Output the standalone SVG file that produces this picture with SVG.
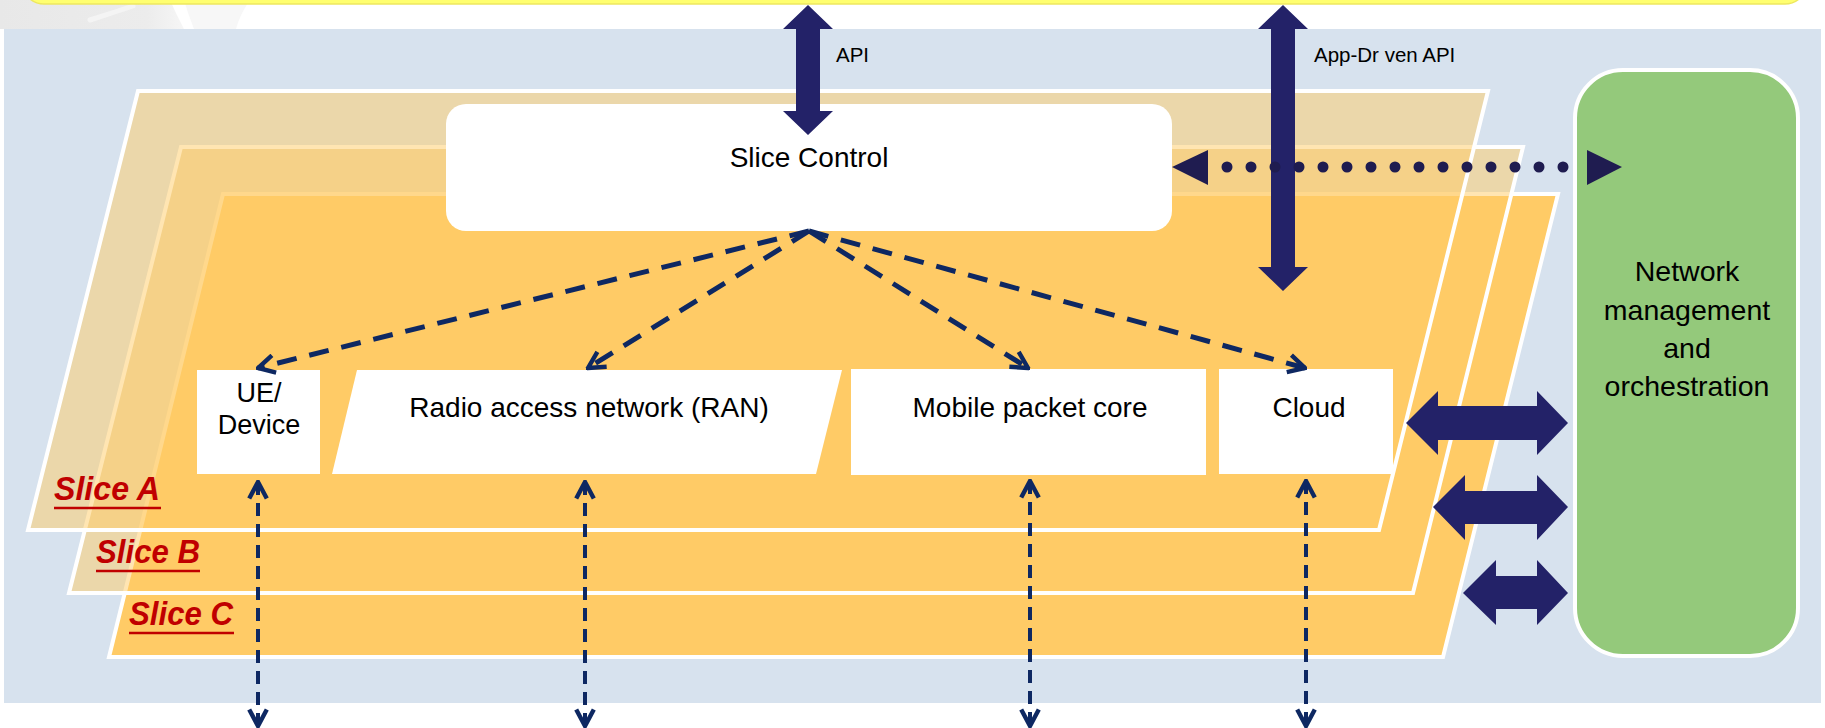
<svg xmlns="http://www.w3.org/2000/svg" width="1825" height="728" viewBox="0 0 1825 728">
<defs>
<style>
.t{font-family:"Liberation Sans",Arial,sans-serif;fill:#000;text-anchor:middle}
.slice{fill:#FFCB66;stroke:#fff;stroke-width:4;stroke-linejoin:miter}
.semi{fill-opacity:0.5}
.node{fill:#fff}
.lbl{font-family:"Liberation Sans",Arial,sans-serif;font-weight:bold;font-style:italic;fill:#C00000;font-size:33px}
.ul{stroke:#C00000;stroke-width:2.5}
.blk{fill:#232268}
.dsh{fill:none;stroke:#0E2862;stroke-width:5;stroke-dasharray:20 13}
.vd{fill:none;stroke:#0E2862;stroke-width:4;stroke-dasharray:13 8}
</style>
<linearGradient id="wm" x1="0" y1="0" x2="1" y2="0">
<stop offset="0" stop-color="#E8E8E8"/>
<stop offset="0.8" stop-color="#ECECEC"/>
<stop offset="1" stop-color="#F6F6F6"/>
</linearGradient>
<marker id="chev" viewBox="0 0 20 20" refX="18" refY="10" markerWidth="22" markerHeight="22" markerUnits="userSpaceOnUse" orient="auto-start-reverse">
<path d="M3,2 L18,10 L3,18" fill="none" stroke="#0E2862" stroke-width="4" stroke-dasharray="none"/>
</marker>
</defs>
<rect x="0" y="0" width="1825" height="728" fill="#fff"/>
<path d="M0,0 L170,0 Q176,14 184,29 L0,29 Z" fill="url(#wm)"/>
<path d="M184,0 L250,0 Q240,14 236,29 L194,29 Q188,14 184,0 Z" fill="#F7F7F7"/>
<path d="M90,20 Q112,13 133,6" fill="none" stroke="#F4F4F4" stroke-width="5" stroke-linecap="round"/>
<rect x="22" y="-40" width="1785" height="44" rx="22" fill="#FFFF70" stroke="#EEE860" stroke-width="1.5"/>
<rect x="4" y="29" width="1817" height="674" fill="#D7E2EE"/>

<g id="slices">
<polygon id="sliceC" class="slice" points="223,194 1558,194 1443,657 109,657"/>
<polygon id="sliceB" class="slice semi" points="181,147 1523,147 1413,593 69,593"/>
<polygon id="sliceA" class="slice semi" points="138,91 1488,91 1379,530 28,530"/>
<text class="lbl" x="54" y="500" textLength="106" lengthAdjust="spacingAndGlyphs">Slice A</text>
<line class="ul" x1="54" y1="508" x2="161" y2="508"/>
<text class="lbl" x="96" y="563" textLength="104" lengthAdjust="spacingAndGlyphs">Slice B</text>
<line class="ul" x1="96" y1="571" x2="200" y2="571"/>
<text class="lbl" x="129" y="625" textLength="104" lengthAdjust="spacingAndGlyphs">Slice C</text>
<line class="ul" x1="129" y1="633" x2="234" y2="633"/>
</g>

<g id="slice-control">
<rect class="node" x="446" y="104" width="726" height="127" rx="20"/>
<text class="t" x="809" y="167" font-size="28">Slice Control</text>
</g>
<g id="ue-device">
<rect class="node" x="197" y="370" width="123" height="104"/>
<text class="t" x="259" y="402" font-size="27">UE/</text>
<text class="t" x="259" y="434" font-size="27">Device</text>
</g>
<g id="ran">
<polygon class="node" points="357,370 842,370 816,474 332,474"/>
<text class="t" x="589" y="417" font-size="28">Radio access network (RAN)</text>
</g>
<g id="core">
<rect class="node" x="851" y="369" width="355" height="106"/>
<text class="t" x="1030" y="417" font-size="28">Mobile packet core</text>
</g>
<g id="cloud">
<rect class="node" x="1219" y="369" width="174" height="105"/>
<text class="t" x="1309" y="417" font-size="28">Cloud</text>
</g>
<g id="nmo">
<rect x="1575" y="70" width="223" height="586" rx="48" fill="#94C97B" stroke="#fff" stroke-width="4"/>
<text class="t" x="1687" y="281" font-size="28.5">Network</text>
<text class="t" x="1687" y="320" font-size="28.5">management</text>
<text class="t" x="1687" y="358" font-size="28.5">and</text>
<text class="t" x="1687" y="396" font-size="28.5">orchestration</text>
</g>

<g id="connectors">
<path class="blk" d="M808,5 L833,29 L820,29 L820,111 L833,111 L808,135 L783,111 L796,111 L796,29 L783,29 Z"/>
<text x="836" y="62" font-family="Liberation Sans,Arial,sans-serif" font-size="20.5" fill="#000">API</text>
<path class="blk" d="M1283,5 L1308,29 L1295,29 L1295,267 L1308,267 L1283,291 L1258,267 L1271,267 L1271,29 L1258,29 Z"/>
<text x="1314" y="62" font-family="Liberation Sans,Arial,sans-serif" font-size="20.5" fill="#000">App-Dr ven API</text>

<line x1="1227" y1="167" x2="1587" y2="167" stroke="#1F1C50" stroke-width="11" stroke-linecap="round" stroke-dasharray="0 24"/>
<polygon points="1172,167 1208,150 1208,185" fill="#1F1C50"/>
<polygon points="1622,167 1587,150 1587,185" fill="#1F1C50"/>

<line class="dsh" x1="809" y1="231" x2="258" y2="368" marker-end="url(#chev)"/>
<line class="dsh" x1="809" y1="231" x2="588" y2="368" marker-end="url(#chev)"/>
<line class="dsh" x1="809" y1="231" x2="1028" y2="368" marker-end="url(#chev)"/>
<line class="dsh" x1="809" y1="231" x2="1305" y2="368" marker-end="url(#chev)"/>

<line class="vd" x1="258" y1="482" x2="258" y2="726" marker-start="url(#chev)" marker-end="url(#chev)"/>
<line class="vd" x1="585" y1="482" x2="585" y2="726" marker-start="url(#chev)" marker-end="url(#chev)"/>
<line class="vd" x1="1030" y1="481" x2="1030" y2="726" marker-start="url(#chev)" marker-end="url(#chev)"/>
<line class="vd" x1="1306" y1="481" x2="1306" y2="726" marker-start="url(#chev)" marker-end="url(#chev)"/>

<path class="blk" d="M1406,423 L1438,391 L1438,406 L1537,406 L1537,391 L1568,423 L1537,455 L1537,440 L1438,440 L1438,455 Z"/>
<path class="blk" d="M1433,507 L1465,475 L1465,491 L1537,491 L1537,475 L1568,507 L1537,540 L1537,524 L1465,524 L1465,540 Z"/>
<path class="blk" d="M1463,593 L1496,560 L1496,576 L1537,576 L1537,560 L1568,593 L1537,625 L1537,609 L1496,609 L1496,625 Z"/>
</g>
</svg>
